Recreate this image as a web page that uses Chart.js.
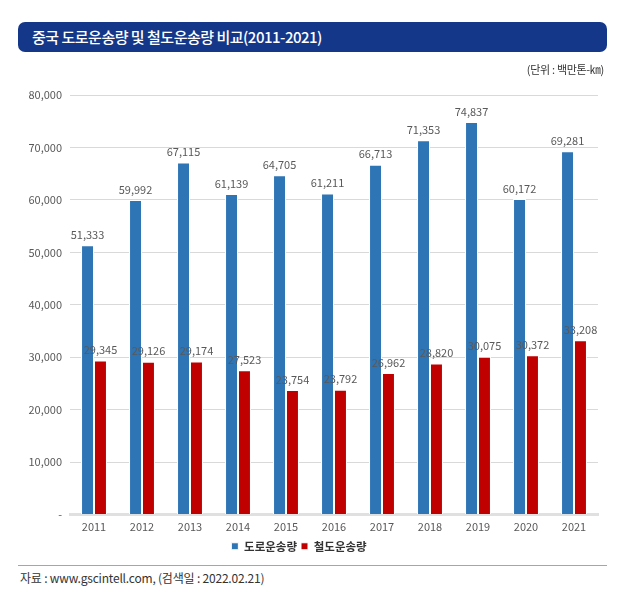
<!DOCTYPE html>
<html>
<head>
<meta charset="utf-8">
<script src="https://cdn.jsdelivr.net/npm/chart.js@4"></script>
<style>
  body { margin: 0; background: #fff; font-family: 'Noto Sans CJK KR', sans-serif; }
  #page { position: relative; width: 631px; height: 615px; overflow: hidden; }
  #title {
    position: absolute; left: 18px; top: 22px; width: 589px; height: 30px;
    background: #14378a; border-radius: 7px; color: #fff;
    font-size: 15px; font-weight: 500; line-height: 30px; padding-left: 14px; box-sizing: border-box;
    letter-spacing: -0.5px;
  }
  #unit { position: absolute; right: 27px; top: 61px; font-size: 11px; color: #333; letter-spacing: -0.3px; }
  #chartBox { position: absolute; left: 0; top: 0; width: 631px; height: 563px; }
  #rule { position: absolute; left: 18px; top: 565px; width: 589px; height: 1px; background: #a6a6a6; }
  #source { position: absolute; left: 20px; top: 569px; font-size: 12px; color: #333; letter-spacing: -0.2px; }
</style>
</head>
<body>
<div id="page">
  <div id="chartBox"><canvas id="mainChart"></canvas></div>
  <div id="title">중국 도로운송량 및 철도운송량 비교(2011-2021)</div>
  <div id="unit">(단위 : 백만톤-㎞)</div>
  <div id="rule"></div>
  <div id="source">자료 : www.gscintell.com, (검색일 : 2022.02.21)</div>
</div>
<script>
// --- 데이터 ---
const years = ['2011', '2012', '2013', '2014', '2015', '2016', '2017', '2018', '2019', '2020', '2021'];
const roadValues = [51333, 59992, 67115, 61139, 64705, 61211, 66713, 71353, 74837, 60172, 69281];
const railValues = [29345, 29126, 29174, 27523, 23754, 23792, 26962, 28820, 30075, 30372, 33208];
const seriesNames = ['도로운송량', '철도운송량'];

const FONT = "'Noto Sans CJK KR', sans-serif";
const TEXT_GRAY = '#595959';

// 막대 위 숫자 표시
const valueLabels = {
    id: 'valueLabels',
    afterDatasetsDraw(chart) {
        const ctx = chart.ctx;
        ctx.save();
        ctx.font = '11px ' + FONT;
        ctx.fillStyle = TEXT_GRAY;
        ctx.textAlign = 'center';
        ctx.textBaseline = 'bottom';
        chart.data.datasets.forEach((ds, i) => {
            const meta = chart.getDatasetMeta(i);
            meta.data.forEach((bar, j) => {
                ctx.fillText(ds.data[j].toLocaleString('en-US'), bar.x, bar.y - 5);
            });
        });
        ctx.restore();
    }
};

const ctx = document.getElementById('mainChart').getContext('2d');
new Chart(ctx, {
    type: 'bar',
    data: {
        labels: years,
        datasets: [
            {
                label: seriesNames[0],
                data: roadValues,
                backgroundColor: '#2e75b6',
                borderColor: '#ffffff',
                borderWidth: 1,
                categoryPercentage: 0.54,
                barPercentage: 1.0
            },
            {
                label: seriesNames[1],
                data: railValues,
                backgroundColor: '#c00000',
                borderColor: '#ffffff',
                borderWidth: 1,
                categoryPercentage: 0.54,
                barPercentage: 1.0
            }
        ]
    },
    options: {
        responsive: true,
        maintainAspectRatio: false,
        animation: false,
        layout: { padding: { top: 95, right: 33, left: 0, bottom: 1 } },
        plugins: {
            tooltip: { enabled: false },
            legend: {
                position: 'bottom',
                labels: {
                    usePointStyle: true,
                    pointStyle: 'rect',
                    boxWidth: 7,
                    boxHeight: 7,
                    padding: 4,
                    color: '#333',
                    font: { family: FONT, size: 11.5, weight: 'bold' }
                }
            }
        },
        scales: {
            x: {
                grid: { display: false, drawTicks: false },
                border: { color: '#e0e0e0', width: 3 },
                ticks: { color: TEXT_GRAY, padding: 6, font: { family: FONT, size: 11 } },
                afterFit(scale) { scale.height = 22; }
            },
            y: {
                min: 0, max: 80000,
                ticks: {
                    stepSize: 10000,
                    color: TEXT_GRAY,
                    padding: 8,
                    font: { family: FONT, size: 11 },
                    callback: (v) => v === 0 ? '-' : v.toLocaleString('en-US')
                },
                grid: { color: '#d9d9d9', drawTicks: false },
                border: { display: false },
                afterFit(scale) { scale.width = 70; }
            }
        }
    },
    plugins: [valueLabels]
});
</script>
</body>
</html>
